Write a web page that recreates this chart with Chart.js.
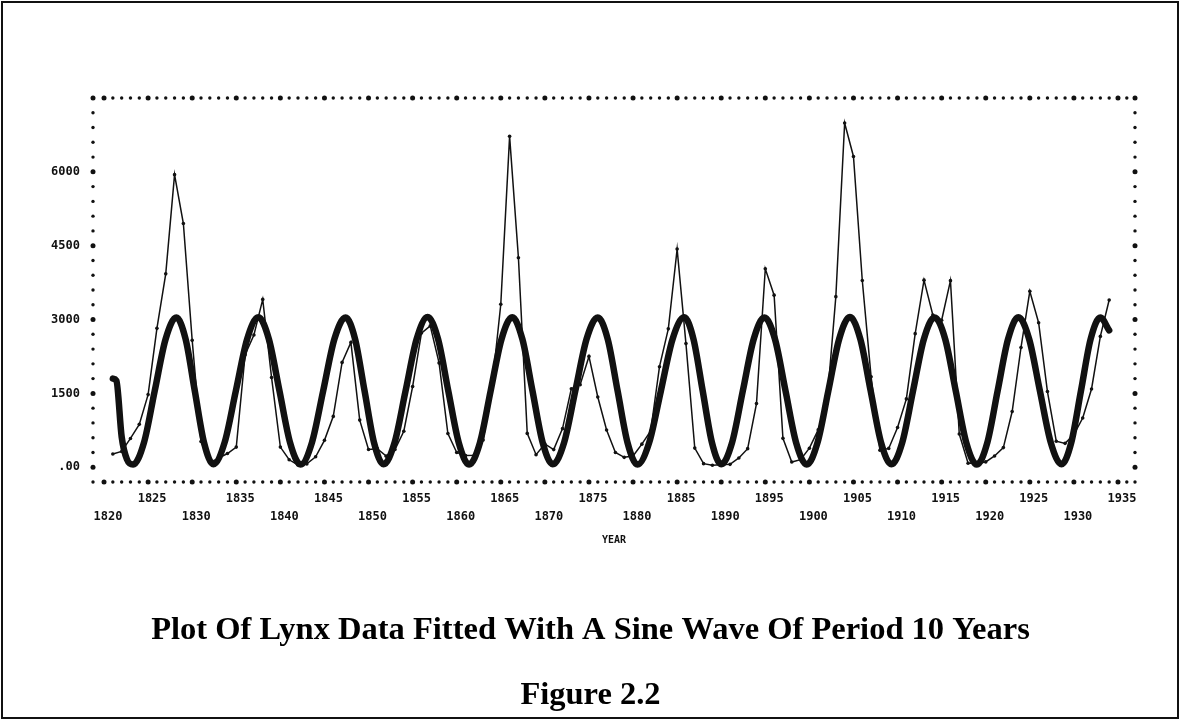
<!DOCTYPE html>
<html>
<head>
<meta charset="utf-8">
<title>Lynx data with fitted sine wave</title>
<script src="https://cdn.jsdelivr.net/npm/chart.js@4.4.1/dist/chart.umd.min.js"></script>
<style>
  html, body { margin: 0; padding: 0; background: #ffffff; }
  #wrap { position: relative; width: 1182px; height: 719px; }
  #c { display: block; }
  #frame {
    position: absolute; left: 1px; top: 1px; width: 1174px; height: 714px;
    border: 2px solid #111; pointer-events: none;
  }
</style>
</head>
<body>
<div id="wrap">
  <canvas id="c" width="1182" height="719"></canvas>
  <div id="frame"></div>
</div>
<script>
// Annual lynx trappings, 1821-1934
const lynxFirstYear = 1821;
const lynxCounts = [
  269, 321, 585, 871, 1475, 2821, 3928, 5943, 4950, 2577,
  523, 98, 184, 279, 409, 2285, 2685, 3409, 1824, 409,
  151, 45, 68, 213, 546, 1033, 2129, 2536, 957, 361,
  377, 225, 360, 731, 1638, 2725, 2871, 2119, 684, 299,
  236, 245, 552, 1623, 3311, 6721, 4254, 687, 255, 473,
  358, 784, 1594, 1676, 2251, 1426, 756, 299, 201, 229,
  469, 736, 2042, 2811, 4431, 2511, 389, 73, 39, 49,
  59, 188, 377, 1292, 4031, 3495, 587, 105, 153, 387,
  758, 1307, 3465, 6991, 6313, 3794, 1836, 345, 382, 808,
  1388, 2713, 3800, 3091, 2985, 3790, 674, 81, 80, 108,
  229, 399, 1132, 2432, 3574, 2935, 1537, 529, 485, 662,
  1000, 1590, 2657, 3396
];
const lynxYears = lynxCounts.map((_, i) => lynxFirstYear + i);

// Fitted sine wave: troughs, peaks and the points between them
const sineYears = [
  1821.0, 1821.4, 1822.0, 1822.6, 1823.3,
  1824.53, 1825.75, 1826.98, 1828.2,
  1829.25, 1830.3, 1831.35, 1832.4,
  1833.68, 1834.95, 1836.23, 1837.5,
  1838.7, 1839.9, 1841.1, 1842.3,
  1843.58, 1844.85, 1846.13, 1847.4,
  1848.48, 1849.55, 1850.63, 1851.7,
  1852.95, 1854.2, 1855.45, 1856.7,
  1857.88, 1859.05, 1860.23, 1861.4,
  1862.63, 1863.85, 1865.08, 1866.3,
  1867.45, 1868.6, 1869.75, 1870.9,
  1872.18, 1873.45, 1874.73, 1876.0,
  1877.13, 1878.25, 1879.38, 1880.5,
  1881.83, 1883.15, 1884.48, 1885.8,
  1886.85, 1887.9, 1888.95, 1890.0,
  1891.23, 1892.45, 1893.68, 1894.9,
  1896.1, 1897.3, 1898.5, 1899.7,
  1900.93, 1902.15, 1903.38, 1904.6,
  1905.78, 1906.95, 1908.13, 1909.3,
  1910.53, 1911.75, 1912.98, 1914.2,
  1915.4, 1916.6, 1917.8, 1919.0,
  1920.18, 1921.35, 1922.53, 1923.7,
  1924.93, 1926.15, 1927.38, 1928.6,
  1929.7, 1930.8, 1931.9, 1933.0,
  1934.0
];
const sineValues = [
  1800, 1760, 620, 160, 55,
  500, 1550, 2600, 3040,
  2605, 1545, 495, 60,
  505, 1550, 2600, 3045,
  2600, 1550, 500, 55,
  500, 1545, 2605, 3040,
  2600, 1550, 495, 60,
  500, 1550, 2600, 3050,
  2605, 1545, 500, 55,
  495, 1550, 2600, 3045,
  2600, 1545, 500, 60,
  500, 1550, 2605, 3040,
  2600, 1550, 495, 55,
  500, 1545, 2600, 3045,
  2605, 1550, 500, 60,
  500, 1550, 2600, 3040,
  2600, 1545, 495, 55,
  505, 1550, 2605, 3050,
  2600, 1550, 500, 60,
  500, 1545, 2600, 3040,
  2605, 1550, 495, 55,
  500, 1550, 2600, 3045,
  2600, 1545, 500, 60,
  500, 1550, 2605, 3040,
  2780
];

// Axis ticks
const xTickYears = [1820, 1825, 1830, 1835, 1840, 1845, 1850, 1855, 1860, 1865, 1870, 1875,
                    1880, 1885, 1890, 1895, 1900, 1905, 1910, 1915, 1920, 1925, 1930, 1935];
const yTickValues = [0, 1500, 3000, 4500, 6000];
const yTickLabels = ['.00', '1500', '3000', '4500', '6000'];

const INK = '#111111';
const tickFont = { family: 'DejaVu Sans Mono', weight: 'bold', size: 12, lineHeight: 1.5 };
const titleFont = { family: 'Liberation Serif', weight: 'bold', size: 32.5, lineHeight: 1.2 };

// Dotted plot frame: one dot per year along top/bottom, one per 300 along the sides,
// with heavier dots on the 5-year and 1500 marks.
const frameDots = {
  id: 'frameDots',
  afterDraw(chart) {
    const { ctx, chartArea: a, scales: { x, y } } = chart;
    ctx.save();
    ctx.fillStyle = INK;
    const dot = (px, py, r) => { ctx.beginPath(); ctx.arc(px, py, r, 0, Math.PI * 2); ctx.fill(); };
    for (let yr = Math.ceil(x.min); yr <= Math.floor(x.max); yr++) {
      const px = x.getPixelForValue(yr);
      if (px < a.left + 4 || px > a.right - 4) continue;
      const r = yr % 5 === 0 ? 2.5 : 1.7;
      dot(px, a.top, r);
      dot(px, a.bottom, r);
    }
    for (let v = y.min; v <= y.max; v += 300) {
      const py = y.getPixelForValue(v);
      const r = v % 1500 === 0 ? 2.5 : 1.7;
      dot(a.left, py, r);
      dot(a.right, py, r);
    }
    ctx.restore();
  }
};

new Chart(document.getElementById('c'), {
  type: 'line',
  data: {
    datasets: [
      {
        label: 'Lynx',
        data: lynxYears.map((yr, i) => ({ x: yr, y: lynxCounts[i] })),
        borderColor: INK,
        backgroundColor: INK,
        borderWidth: 1.5,
        pointRadius: 1.8,
        pointBorderWidth: 0,
        pointBackgroundColor: INK,
        tension: 0
      },
      {
        label: 'Sine fit',
        data: sineYears.map((yr, i) => ({ x: yr, y: sineValues[i] })),
        borderColor: INK,
        borderWidth: 6.5,
        pointRadius: 0,
        cubicInterpolationMode: 'monotone',
        borderCapStyle: 'round',
        borderJoinStyle: 'round'
      }
    ]
  },
  options: {
    responsive: false,
    animation: false,
    devicePixelRatio: 1,
    layout: { padding: { left: 46, right: 47, top: 98, bottom: 0 } },
    scales: {
      x: {
        type: 'linear',
        min: 1818.75,
        max: 1936.93,
        grid: { display: false, drawTicks: false },
        border: { display: false },
        afterBuildTicks: (s) => { s.ticks = xTickYears.map(v => ({ value: v })); },
        afterFit: (s) => { s.height = 63; },
        ticks: {
          autoSkip: false,
          maxRotation: 0,
          padding: 8,
          labelOffset: 4,
          color: INK,
          font: tickFont,
          callback: (v) => (v % 10 === 0 ? ['', String(v)] : String(v))
        },
        title: {
          display: true,
          text: 'YEAR',
          color: INK,
          font: { family: 'DejaVu Sans Mono', weight: 'bold', size: 10, lineHeight: 1 },
          padding: { top: 0, bottom: 0 }
        }
      },
      y: {
        type: 'linear',
        min: -300,
        max: 7500,
        grid: { display: false, drawTicks: false },
        border: { display: false },
        afterBuildTicks: (s) => { s.ticks = yTickValues.map(v => ({ value: v })); },
        afterFit: (s) => { s.width = 47; },
        ticks: {
          padding: 13,
          color: INK,
          font: tickFont,
          callback: (v) => yTickLabels[yTickValues.indexOf(v)]
        }
      }
    },
    plugins: {
      legend: { display: false },
      tooltip: { enabled: false },
      title: {
        display: true,
        position: 'bottom',
        weight: 1000,
        text: 'Plot Of Lynx Data Fitted With A Sine Wave Of Period 10 Years',
        color: '#000',
        font: titleFont,
        padding: { top: 66, bottom: 0 }
      },
      subtitle: {
        display: true,
        position: 'bottom',
        weight: 2000,
        text: 'Figure 2.2',
        color: '#000',
        font: titleFont,
        padding: { top: 26.5, bottom: 3.5 }
      }
    }
  },
  plugins: [frameDots]
});
</script>
</body>
</html>
